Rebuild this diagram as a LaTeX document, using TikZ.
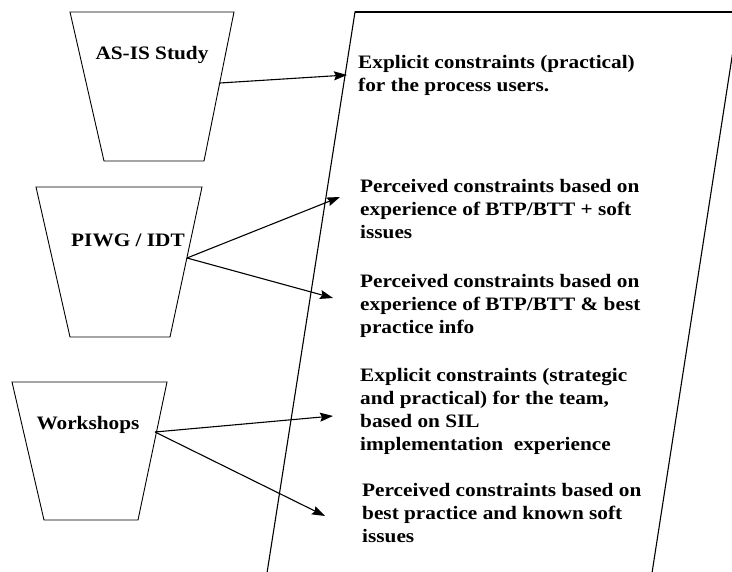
\documentclass[tikz,border=0pt]{standalone}
\usepackage{fontspec}
\setmainfont{Liberation Serif}[FakeStretch=1.12]
\usetikzlibrary{arrows.meta}
\begin{document}
\begin{tikzpicture}[x=1pt,y=-1pt,
  bucket/.style={draw=black, line width=0.9pt, line join=miter},
  panel/.style={draw=black, line width=1.1pt},
  lbl/.style={font=\bfseries\fontsize{19}{23}\selectfont, inner sep=0pt},
  note/.style={font=\bfseries\fontsize{19}{23}\selectfont, align=left, anchor=north west, inner sep=0pt},
  flow/.style={-{Stealth[length=13pt,width=9pt,inset=2pt]}, line width=1.1pt}]
\useasboundingbox (0,0) rectangle (732,572);

% source buckets
\draw[bucket] (70,12) -- (234,12) -- (204,161) -- (104,161) -- cycle;
\node[lbl] (asis) at (152,55) {AS-IS Study};
\coordinate (asisOut) at (220,83);

\draw[bucket] (36,187) -- (202,187) -- (170,337) -- (70,337) -- cycle;
\node[lbl] (piwg) at (128,240) {PIWG / IDT};
\coordinate (piwgOut) at (187,258);

\draw[bucket] (12,382) -- (167,382) -- (138,520) -- (44,520) -- cycle;
\node[lbl] (work) at (88,425) {Workshops};
\coordinate (workOut) at (155,432);

% constraints panel
\draw[panel] (267,573) -- (355,12) -- (739,12) -- (652,573);
\draw[line width=1.8pt] (355,12) -- (739,12);

% constraint notes
\node[note] (n1) at (358,55) {Explicit constraints (practical)\\for the process users.};
\node[note] (n2) at (360,179) {Perceived constraints based on\\experience of BTP/BTT + soft\\issues};
\node[note] (n3) at (360,274) {Perceived constraints based on\\experience of BTP/BTT \& best\\practice info};
\node[note] (n4) at (360,368) {Explicit constraints (strategic\\and practical) for the team,\\based on SIL\\implementation\ \ experience};
\node[note] (n5) at (362,483) {Perceived constraints based on\\best practice and known soft\\issues};

% arrow targets
\coordinate (t1) at (347,75);
\coordinate (t2) at (340,197);
\coordinate (t3) at (333,298);
\coordinate (t4) at (333,416);
\coordinate (t5) at (325,516);

\draw[flow] (asisOut) -- (t1);
\draw[flow] (piwgOut) -- (t2);
\draw[flow] (piwgOut) -- (t3);
\draw[flow] (workOut) -- (t4);
\draw[flow] (workOut) -- (t5);
\end{tikzpicture}
\end{document}
